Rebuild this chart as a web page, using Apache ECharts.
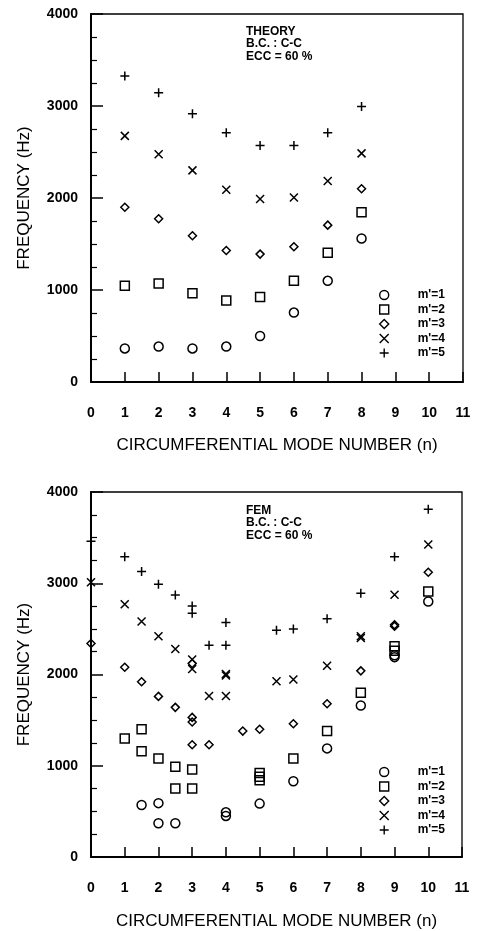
<!DOCTYPE html>
<html>
<head>
<meta charset="utf-8">
<title>Frequency vs circumferential mode number</title>
<script src="https://cdn.jsdelivr.net/npm/echarts@6/dist/echarts.min.js"></script>
<style>
  html, body { margin: 0; padding: 0; background: #fff; }
  #chart { width: 478px; height: 931px; }
</style>
</head>
<body>
<div id="chart"></div>
<script>
// x axis ticks (n) and y axis range
const modeTicks = [0, 1, 2, 3, 4, 5, 6, 7, 8, 9, 10, 11]
const seriesNames = ["m'=1", "m'=2", "m'=3", "m'=4", "m'=5"]

// THEORY, n = 1..8
const theoryN = [1, 2, 3, 4, 5, 6, 7, 8]
const theoryM1 = [365, 385, 365, 385, 500, 755, 1100, 1560]
const theoryM2 = [1045, 1070, 965, 885, 925, 1100, 1405, 1845]
const theoryM3 = [1900, 1775, 1590, 1430, 1390, 1470, 1705, 2100]
const theoryM4 = [2675, 2475, 2300, 2090, 1990, 2005, 2185, 2485]
const theoryM5 = [3325, 3145, 2915, 2710, 2570, 2570, 2710, 2995]

// FEM, [n, Hz]
const femM1 = [[1.5, 570], [2, 590], [2, 370], [2.5, 370], [4, 490], [4, 450], [5, 585], [6, 830], [7, 1190], [8, 1660], [9, 2190], [9, 2210], [10, 2800]]
const femM2 = [[1, 1300], [1.5, 1400], [1.5, 1160], [2, 1080], [2.5, 990], [2.5, 750], [3, 960], [3, 750], [5, 920], [5, 880], [5, 840], [6, 1080], [7, 1380], [8, 1800], [9, 2310], [9, 2260], [10, 2910]]
const femM3 = [[0, 2340], [1, 2080], [1.5, 1920], [2, 1760], [2.5, 1640], [3, 2120], [3, 1530], [3, 1480], [3, 1230], [3.5, 1230], [4.5, 1380], [5, 1400], [6, 1460], [7, 1680], [8, 2040], [9, 2530], [9, 2545], [10, 3120]]
const femM4 = [[0, 3010], [1, 2770], [1.5, 2580], [2, 2420], [2.5, 2280], [3, 2165], [3, 2060], [3.5, 1765], [4, 1765], [4, 1990], [4, 2005], [5.5, 1925], [6, 1945], [7, 2095], [8, 2400], [8, 2420], [9, 2875], [10, 3425]]
const femM5 = [[0, 3460], [1, 3290], [1.5, 3130], [2, 2990], [2.5, 2870], [3, 2750], [3, 2670], [3.5, 2320], [4, 2570], [4, 2320], [5.5, 2485], [6, 2500], [7, 2610], [8, 2890], [9, 3290], [10, 3810]]

const FONT = "'Liberation Sans', Arial, sans-serif"

const symbols = [
  'path://M10,5A5,5,0,1,1,0,5A5,5,0,1,1,10,5Z',
  'path://M0,0L10,0L10,10L0,10Z',
  'path://M5,0L10,5L5,10L0,5Z',
  'path://M0,0L10,10M10,0L0,10',
  'path://M5,0L5,10M0,5L10,5'
]
const symbolSizes = [9, 9, 8, 8, 9]

const chart = echarts.init(document.getElementById('chart'))

const makeX = (gridIndex, nameGap) => ({
  gridIndex,
  type: 'value',
  min: modeTicks[0],
  max: modeTicks[modeTicks.length - 1],
  interval: 1,
  name: 'CIRCUMFERENTIAL MODE NUMBER (n)',
  nameLocation: 'middle',
  nameGap,
  nameTextStyle: { fontSize: 17, color: '#000', fontFamily: FONT },
  axisLine: { lineStyle: { color: '#000', width: 2 } },
  axisTick: { inside: true, length: 10, lineStyle: { color: '#000', width: 1.5 } },
  axisLabel: { margin: 24, color: '#000', fontSize: 14, fontWeight: 'bold', fontFamily: FONT },
  splitLine: { show: false }
})

const makeY = (gridIndex) => ({
  gridIndex,
  type: 'value',
  min: 0,
  max: 4000,
  interval: 1000,
  name: 'FREQUENCY (Hz)',
  nameLocation: 'middle',
  nameGap: 58,
  nameTextStyle: { fontSize: 17, color: '#000', fontFamily: FONT },
  axisLine: { lineStyle: { color: '#000', width: 2 } },
  axisTick: { inside: true, length: 12, lineStyle: { color: '#000', width: 1.5 } },
  minorTick: { show: true, splitNumber: 4, length: 6, lineStyle: { color: '#000', width: 1.2 } },
  axisLabel: { margin: 13, color: '#000', fontSize: 14, fontWeight: 'bold', fontFamily: FONT, formatter: v => String(v) },
  splitLine: { show: false }
})

const makeSeries = (name, idx, gridIndex, data) => ({
  name,
  type: 'scatter',
  xAxisIndex: gridIndex,
  yAxisIndex: gridIndex,
  symbol: symbols[idx],
  symbolSize: symbolSizes[idx],
  clip: false,
  itemStyle: { color: 'rgba(0,0,0,0)', borderColor: '#000', borderWidth: 1.5, opacity: 1 },
  emphasis: { disabled: true },
  data
})

const theoryLists = [theoryM1, theoryM2, theoryM3, theoryM4, theoryM5]
const femLists = [femM1, femM2, femM3, femM4, femM5]

const series = []
theoryLists.forEach((vals, i) => {
  series.push(makeSeries(seriesNames[i], i, 0, theoryN.map((n, k) => [n, vals[k]])))
})
femLists.forEach((pts, i) => {
  series.push(makeSeries(seriesNames[i], i, 1, pts))
})

const makeLegend = (top) => ({
  data: seriesNames,
  orient: 'vertical',
  left: 374,
  top,
  itemWidth: 9,
  itemHeight: 9,
  itemGap: 2.5,
  selectedMode: false,
  itemStyle: { borderWidth: 1.4, borderColor: '#000', color: 'rgba(0,0,0,0)' },
  textStyle: { fontSize: 12, fontWeight: 'bold', color: '#000', fontFamily: FONT, lineHeight: 12, padding: [0, 0, 0, 24] }
})

const noteStyle = (text) => ({
  text,
  font: 'bold 12px ' + FONT,
  lineHeight: 12.7,
  fill: '#000'
})

chart.setOption({
  animation: false,
  backgroundColor: '#fff',
  grid: [
    { left: 91, top: 14, width: 372, height: 368, show: true, borderColor: '#000', borderWidth: 1.3 },
    { left: 91, top: 492, width: 371, height: 365, show: true, borderColor: '#000', borderWidth: 1.3 }
  ],
  xAxis: [makeX(0, 55), makeX(1, 56)],
  yAxis: [makeY(0), makeY(1)],
  legend: [makeLegend(284), makeLegend(761)],
  graphic: [
    { type: 'text', left: 246, top: 25, style: noteStyle('THEORY\nB.C. : C-C\nECC = 60 %') },
    { type: 'text', left: 246, top: 504, style: noteStyle('FEM\nB.C. : C-C\nECC = 60 %') }
  ],
  series
})
</script>
</body>
</html>
